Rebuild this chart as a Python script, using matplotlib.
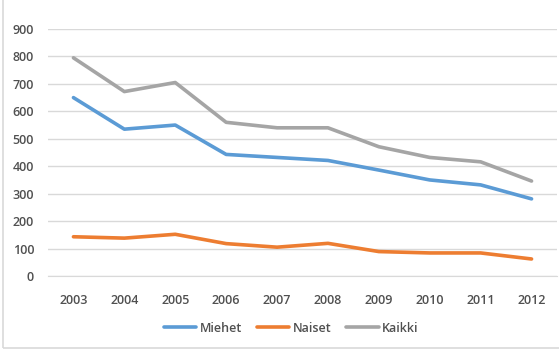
import matplotlib.pyplot as plt
from matplotlib.patches import Rectangle

years = ['2003', '2004', '2005', '2006', '2007', '2008', '2009', '2010', '2011', '2012']
miehet = [650, 535, 550, 443, 432, 421, 386, 350, 332, 281]
naiset = [143, 138, 152, 118, 105, 119, 89, 84, 84, 62]
kaikki = [795, 672, 705, 560, 540, 540, 471, 432, 416, 346]

series = [('Miehet', miehet, '#5B9BD5'),
          ('Naiset', naiset, '#ED7D31'),
          ('Kaikki', kaikki, '#A5A5A5')]

plt.rcParams['font.family'] = ['Open Sans', 'DejaVu Sans']

W, H = 559, 354
fig = plt.figure(figsize=(W / 100, H / 100), dpi=100)
fig.patch.set_facecolor('white')

# chart area frame (left and bottom edges visible)
fig.patches.append(Rectangle((2.5 / W, 6 / H), 1.0, 1.0, transform=fig.transFigure,
                             fill=False, edgecolor='#D9D9D9', linewidth=1.2))

ax = fig.add_axes([48 / W, 1 - 276 / H, (557 - 48) / W, (276 - 29) / H])
x = list(range(len(years)))
for name, vals, color in series:
    ax.plot(x, vals, color=color, linewidth=2.6, label=name, solid_capstyle='round')

ax.set_xlim(-0.5, len(years) - 0.5)
ax.set_ylim(0, 900)
ax.set_yticks(range(0, 901, 100))
ax.set_xticks(x)
ax.set_xticklabels(years)
ax.grid(axis='y', color='#D9D9D9', linewidth=1)
ax.set_axisbelow(True)
for s in ['top', 'right', 'left']:
    ax.spines[s].set_visible(False)
ax.spines['bottom'].set_color('#D9D9D9')
ax.tick_params(axis='both', length=0, labelsize=9, labelcolor='#505050')
ax.tick_params(axis='x', pad=13)
ax.tick_params(axis='y', pad=10)
for lbl in ax.get_xticklabels() + ax.get_yticklabels():
    lbl.set_fontweight('semibold')

leg = fig.legend(loc='center', bbox_to_anchor=(291 / W, 1 - 328 / H), ncol=3, frameon=False,
                 fontsize=9, handlelength=2.6, columnspacing=1.2, handletextpad=0.25)
for t in leg.get_texts():
    t.set_color('#505050')
    t.set_fontweight('semibold')

fig.savefig('out.png', dpi=100)
